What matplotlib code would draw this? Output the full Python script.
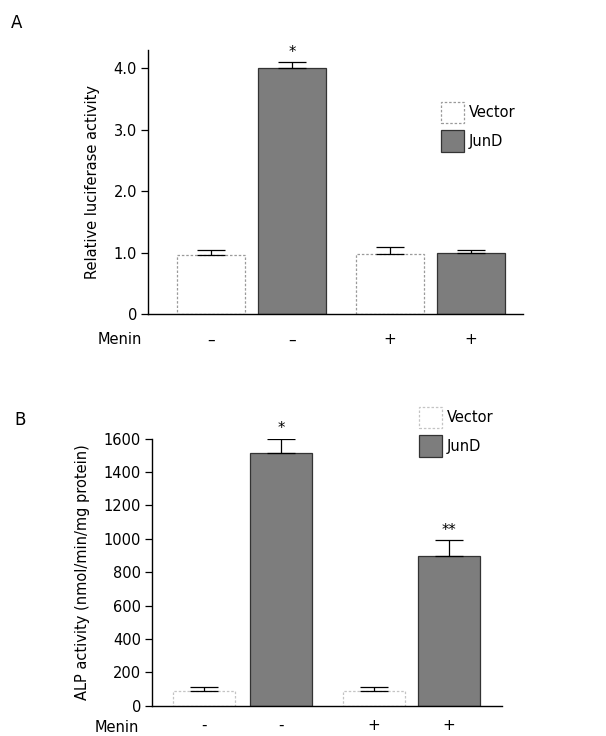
import numpy as np
import matplotlib
matplotlib.use("Agg")
import matplotlib.pyplot as plt

# ======================
# data
# ======================
groups = ["Vector", "JunD", "Vector", "JunD"]
menin_a = ["–", "–", "+", "+"]
menin_b = ["-", "-", "+", "+"]

luc_vals = [0.96, 4.00, 0.98, 0.99]
luc_err = [0.09, 0.10, 0.11, 0.06]
luc_marks = ["", "*", "", ""]

alp_vals = [90, 1515, 90, 895]
alp_err = [20, 85, 20, 95]
alp_marks = ["", "*", "", "**"]

plt.rcParams["font.family"] = ["DejaVu Sans"]
plt.rcParams["font.size"] = 10.5

fig = plt.figure(figsize=(6.06, 7.36), dpi=100)


def bar_styles(vec_edge):
    return {
        "Vector": dict(facecolor="white", edgecolor=vec_edge, linestyle=(0, (2, 1.5)), linewidth=0.9),
        "JunD": dict(facecolor="#7d7d7d", edgecolor="#333333", linestyle="-", linewidth=0.9),
    }


def draw_panel(ax, vals, errs, marks, menin, pos, width, ylim, yticks, yticklabels,
               ylabel, xright, styles, xpad):
    handles = {}
    for x, v, e, g in zip(pos, vals, errs, groups):
        b = ax.bar(x, v, width=width, **styles[g], label=g, zorder=2)
        handles[g] = b
        ax.errorbar(x, v, yerr=[[0], [e]], fmt="none", ecolor="black",
                    elinewidth=0.9, capsize=10, capthick=0.9, zorder=3)
    for x, v, e, m in zip(pos, vals, errs, marks):
        if m:
            ax.annotate(m, (x, v + e), xytext=(0, 2), textcoords="offset points",
                        ha="center", va="bottom", fontsize=10.5, annotation_clip=False)
    ax.set_xlim(0, xright)
    ax.set_ylim(*ylim)
    ax.set_yticks(yticks)
    ax.set_yticklabels(yticklabels)
    ax.set_xticks(pos)
    ax.set_xticklabels(menin)
    ax.tick_params(axis="x", length=0, pad=xpad, labelsize=11)
    ax.tick_params(axis="y", length=5, width=0.9, pad=3, labelsize=10.5)
    ax.spines["top"].set_visible(False)
    ax.spines["right"].set_visible(False)
    for s in ["left", "bottom"]:
        ax.spines[s].set_linewidth(1.0)
    ax.set_ylabel(ylabel, fontsize=10.5, labelpad=10)
    return [handles["Vector"], handles["JunD"]]


# ======================
# panel A
# ======================
axA = fig.add_axes([148 / 606, 1 - 314.3 / 736, 375 / 606, 264.3 / 736])
hA = draw_panel(axA, luc_vals, luc_err, luc_marks, menin_a,
                [0.78, 1.78, 2.99, 3.99], 0.84, (0, 4.3),
                [0, 1, 2, 3, 4], ["0", "1.0", "2.0", "3.0", "4.0"],
                "Relative luciferase activity", 4.63, bar_styles("#9a9a9a"), 13)
axA.legend(hA, ["Vector", "JunD"], loc="upper left",
           bbox_to_anchor=(441 / 606, 1 - 102 / 736), bbox_transform=fig.transFigure,
           frameon=False, borderpad=0, borderaxespad=0, handlelength=1.6,
           handleheight=1.85, handletextpad=0.3, labelspacing=0.5, fontsize=10.5)
fig.text(120 / 606, 1 - 340 / 736, "Menin", ha="center", va="center", fontsize=10.5)
fig.text(17 / 606, 1 - 23 / 736, "A", ha="center", va="center", fontsize=12)

# ======================
# panel B
# ======================
axB = fig.add_axes([152 / 606, 1 - 705.7 / 736, 350 / 606, 267 / 736])
ticksB = [0, 200, 400, 600, 800, 1000, 1200, 1400, 1600]
hB = draw_panel(axB, alp_vals, alp_err, alp_marks, menin_b,
                [0.675, 1.675, 2.88, 3.86], 0.805, (0, 1600),
                ticksB, [str(t) for t in ticksB],
                "ALP activity (nmol/min/mg protein)", 4.545, bar_styles("#c4c4c4"), 9)
axB.legend(hB, ["Vector", "JunD"], loc="upper left",
           bbox_to_anchor=(419 / 606, 1 - 407 / 736), bbox_transform=fig.transFigure,
           frameon=False, borderpad=0, borderaxespad=0, handlelength=1.6,
           handleheight=1.85, handletextpad=0.3, labelspacing=0.5, fontsize=10.5)
fig.text(117 / 606, 1 - 727 / 736, "Menin", ha="center", va="center", fontsize=10.5)
fig.text(20 / 606, 1 - 420 / 736, "B", ha="center", va="center", fontsize=12)

plt.savefig("out.png", dpi=100)
